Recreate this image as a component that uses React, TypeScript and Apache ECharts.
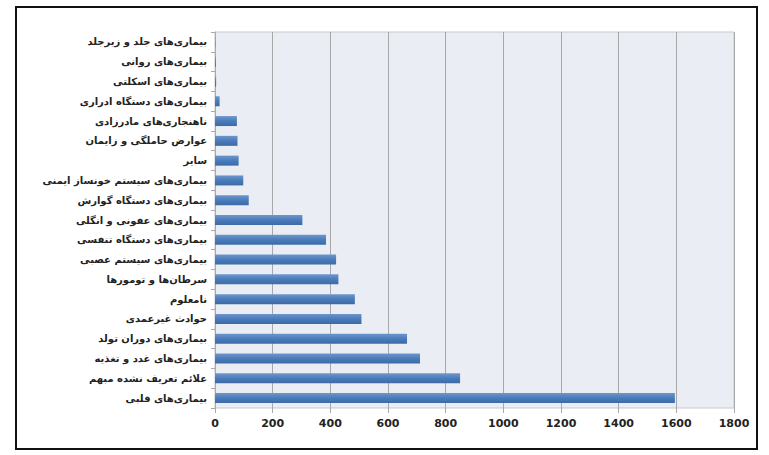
import React, { useEffect, useRef } from "react";
import * as echarts from "echarts";

const categories = [
  "بیماری‌های قلبی",
  "علائم تعریف نشده مبهم",
  "بیماری‌های غدد و تغذیه",
  "بیماری‌های دوران تولد",
  "حوادث غیرعمدی",
  "نامعلوم",
  "سرطان‌ها و تومورها",
  "بیماری‌های سیستم عصبی",
  "بیماری‌های دستگاه تنفسی",
  "بیماری‌های عفونی و انگلی",
  "بیماری‌های دستگاه گوارش",
  "بیماری‌های سیستم خونساز ایمنی",
  "سایر",
  "عوارض حاملگی و زایمان",
  "ناهنجاری‌های مادرزادی",
  "بیماری‌های دستگاه ادراری",
  "بیماری‌های اسکلتی",
  "بیماری‌های روانی",
  "بیماری‌های جلد و زیرجلد",
];

const values = [1595, 850, 711, 666, 508, 485, 428, 420, 385, 303, 117, 98, 82, 78, 76, 16, 4, 3, 1];

const xTicks = [0, 200, 400, 600, 800, 1000, 1200, 1400, 1600, 1800];

export default function App() {
  const ref = useRef<HTMLDivElement>(null);
  useEffect(() => {
    const chart = echarts.init(ref.current!, null, { renderer: "svg" });
    chart.setOption({
      animation: false,
      backgroundColor: "#ffffff",
      textStyle: { fontFamily: "DejaVu Sans" },
      graphic: [
        {
          type: "rect",
          shape: { x: 16, y: 7, width: 741, height: 442 },
          style: { fill: "none", stroke: "#111", lineWidth: 2 },
        },
      ],
      grid: {
        left: 215,
        right: 35,
        top: 32,
        bottom: 47,
        show: true,
        backgroundColor: "#eaeef4",
        borderColor: "#c8c8c8",
        borderWidth: 1,
      },
      xAxis: {
        type: "value",
        min: xTicks[0],
        max: xTicks[xTicks.length - 1],
        interval: 200,
        axisLine: { show: false },
        axisTick: { show: true, length: 5, lineStyle: { color: "#aaa" } },
        splitLine: { show: true, lineStyle: { color: "#a8a8a8", width: 1 } },
        axisLabel: {
          color: "#222",
          fontSize: 11,
          fontWeight: "bold",
          margin: 10,
          fontFamily: "DejaVu Sans",
          formatter: (v: number) => String(v),
        },
      },
      yAxis: {
        type: "category",
        data: categories,
        axisLine: { show: true, lineStyle: { color: "#aaa" } },
        axisTick: { show: true, length: 4, lineStyle: { color: "#aaa" } },
        axisLabel: {
          color: "#222",
          fontSize: 10,
          fontWeight: "bold",
          margin: 8,
          fontFamily: "DejaVu Sans",
        },
      },
      series: [
        {
          type: "bar",
          data: values,
          barWidth: 10,
          itemStyle: {
            color: new echarts.graphic.LinearGradient(0, 0, 0, 1, [
              { offset: 0, color: "#6d97cc" },
              { offset: 0.5, color: "#4a7bba" },
              { offset: 1, color: "#3b6aa6" },
            ]),
          },
        },
      ],
    });
    return () => chart.dispose();
  }, []);
  return (
    <div
      ref={ref}
      style={{ position: "fixed", left: 0, top: 0, width: 769, height: 455 }}
    />
  );
}
